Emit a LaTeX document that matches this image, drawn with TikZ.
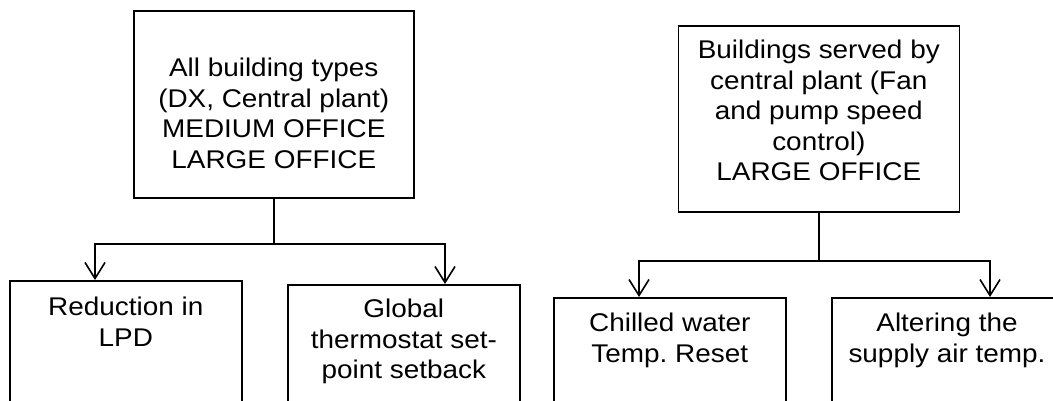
\documentclass[tikz,border=0pt]{standalone}
\usepackage{fontspec}
\setmainfont{Liberation Sans}[FakeStretch=1.09]
\usetikzlibrary{arrows.meta}
\frenchspacing
\begin{document}
\begin{tikzpicture}[x=1pt,y=-1pt,
  box/.style={draw, line width=1.6pt, inner sep=0pt},
  lbl/.style={align=center, inner sep=0pt, font=\fontsize{25.6}{30.5}\selectfont},
  conn/.style={line width=1.6pt},
  arr/.style={conn, -{Straight Barb[length=16pt,width=20pt,line width=1.6pt]}}]
\useasboundingbox (0,0) rectangle (1053,400);
% top boxes
\node[box, minimum width=280pt, minimum height=187pt, anchor=north west] (all) at (133,10) {};
\node[box, minimum width=281pt, minimum height=186pt, anchor=north west] (cp) at (677.5,25) {};
\node[lbl, anchor=north] (allt) at ([yshift=-48pt]all.north)
  {All building types\\(DX, Central plant)\\MEDIUM OFFICE\\LARGE OFFICE};
\node[lbl, anchor=north] (cpt) at ([yshift=-15pt]cp.north)
  {Buildings served by\\central plant (Fan\\and pump speed\\control)\\LARGE OFFICE};
% bottom boxes
\node[box, minimum width=232pt, minimum height=130pt, anchor=north west] (lpd) at (9,280) {};
\node[box, minimum width=232pt, minimum height=126pt, anchor=north west] (glob) at (287,284) {};
\node[box, minimum width=232pt, minimum height=113pt, anchor=north west] (chw) at (553,297) {};
\node[box, minimum width=300pt, minimum height=113pt, anchor=north west] (sat) at (831,297) {};
\node[lbl, anchor=north] (lpdt) at ([yshift=-17pt]lpd.north) {Reduction in\\LPD};
\node[lbl, anchor=north] (globt) at ([yshift=-15pt]glob.north) {Global\\thermostat set-\\point setback};
\node[lbl, anchor=north] (chwt) at ([yshift=-16pt]chw.north) {Chilled water\\Temp.\ Reset};
\node[lbl, anchor=north] (satt) at ([xshift=116pt,yshift=-16pt]sat.north west) {Altering the\\supply air temp.};
% connectors
\coordinate (hl) at (0,244);
\coordinate (hr) at (0,261);
\draw[conn] (all.south) -- (all.south |- hl);
\draw[arr] (all.south |- hl) -| ([xshift=86pt]lpd.north west);
\draw[arr] (all.south |- hl) -| ([xshift=158pt]glob.north west);
\draw[conn] (cp.south) -- (cp.south |- hr);
\draw[arr] (cp.south |- hr) -| ([xshift=86pt]chw.north west);
\draw[arr] (cp.south |- hr) -| ([xshift=159pt]sat.north west);
\end{tikzpicture}
\end{document}
